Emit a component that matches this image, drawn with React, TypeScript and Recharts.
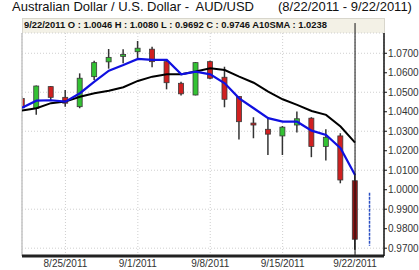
import React from "react";
import {
  Bar,
  CartesianGrid,
  ComposedChart,
  Line,
  ReferenceLine,
  XAxis,
  YAxis,
} from "recharts";

const dates = [
  "8/22/2011", "8/23/2011", "8/24/2011", "8/25/2011", "8/26/2011",
  "8/29/2011", "8/30/2011", "8/31/2011", "9/1/2011", "9/2/2011",
  "9/5/2011", "9/6/2011", "9/7/2011", "9/8/2011", "9/9/2011",
  "9/12/2011", "9/13/2011", "9/14/2011", "9/15/2011", "9/16/2011",
  "9/19/2011", "9/20/2011", "9/21/2011", "9/22/2011",
];
const opens = [
  1.0468, 1.0418, 1.0529, 1.0474, 1.0426, 1.058, 1.0656, 1.0684, 1.0708, 1.0721,
  1.0657, 1.0546, 1.0486, 1.0657, 1.0577, 1.0478, 1.0342, 1.031, 1.0276, 1.0332,
  1.0367, 1.0222, 1.0276, 1.0046,
];
const highs = [
  1.0478, 1.0535, 1.0532, 1.0512, 1.0597, 1.0662, 1.0722, 1.0721, 1.0763, 1.0734,
  1.066, 1.0554, 1.0655, 1.0662, 1.0631, 1.048, 1.0372, 1.0367, 1.0327, 1.0401,
  1.0372, 1.031, 1.029, 1.008,
];
const lows = [
  1.0412, 1.0384, 1.0457, 1.0426, 1.0418, 1.0563, 1.0621, 1.0649, 1.0676, 1.0628,
  1.0515, 1.0483, 1.0484, 1.0567, 1.0423, 1.0258, 1.0264, 1.0178, 1.0178, 1.0293,
  1.0167, 1.015, 1.0033, 0.9692,
];
const closes = [
  1.042, 1.0532, 1.0474, 1.0444, 1.0572, 1.0652, 1.0679, 1.0694, 1.0726, 1.0657,
  1.0549, 1.0492, 1.0652, 1.0572, 1.0464, 1.0349, 1.0332, 1.0285, 1.0321, 1.0364,
  1.0222, 1.0269, 1.005, 0.9746,
];
const sma10 = [
  1.0406, 1.0418, 1.0444, 1.0452, 1.0477, 1.0495, 1.0508, 1.0526, 1.0558, 1.058,
  1.0592, 1.0592, 1.0606, 1.0623, 1.0614, 1.058, 1.0549, 1.0503, 1.0464, 1.0435,
  1.0404, 1.0384, 1.0324, 1.0242,
];
const fastMa = [
  1.0421, 1.0457, 1.0459, 1.0452, 1.0495, 1.0554, 1.0611, 1.064, 1.0671, 1.0666,
  1.0666, 1.0592, 1.0606, 1.0592, 1.0546, 1.0469, 1.0418, 1.0367, 1.0349, 1.0349,
  1.0303, 1.0281, 1.0213, 1.0076,
];
// projected range for the next session (9/23)
const projection = [
  { i: 24, v: 0.9984 },
  { i: 24, v: 0.9712 },
];
const xTicks = [3, 8, 13, 18, 23];
const yTicks = [0.97, 0.98, 0.99, 1.0, 1.01, 1.02, 1.03, 1.04, 1.05, 1.06, 1.07];

const data = dates.map((date, i) => ({
  i,
  date,
  open: opens[i],
  high: highs[i],
  low: lows[i],
  close: closes[i],
  sma10: sma10[i],
  fast: fastMa[i],
}));

const FONT = "'Liberation Sans', Arial, sans-serif";

const Candle = (props: any) => {
  const { x, y, width, height, payload } = props;
  if (payload == null || height == null) return null;
  const { open, close, high, low, i } = payload;
  const k = height / (high - low);
  const yO = y + (high - open) * k;
  const yC = y + (high - close) * k;
  const cx = x + width / 2;
  const up = close >= open;
  const fill = up ? "#33c233" : i === dates.length - 1 ? "#8e1414" : "#d02020";
  const top = Math.min(yO, yC);
  const h = Math.max(Math.abs(yC - yO), 1.5);
  // first candle sits on the left edge, only its right half shows
  const clipLeft = i === 0 ? cx : -Infinity;
  const bx = Math.max(cx - 2.5, clipLeft);
  return (
    <g>
      <line x1={cx} x2={cx} y1={y} y2={y + height} stroke="#333" strokeWidth={1.5} />
      <rect x={bx} y={top} width={cx + 2.5 - bx} height={h} fill={fill} stroke="#3a3a3a" strokeWidth={0.8} />
    </g>
  );
};

export default function App() {
  return (
    <div style={{ position: "absolute", left: 0, top: 0, width: 419, height: 270, background: "#fff", fontFamily: FONT }}>
      <div style={{ position: "absolute", left: 12, top: -1, fontSize: 13, color: "#111", whiteSpace: "pre" }}>
        Australian Dollar / U.S. Dollar -  AUD/USD
      </div>
      <div style={{ position: "absolute", left: 278, top: -1, fontSize: 13, color: "#111", whiteSpace: "pre" }}>
        (8/22/2011 - 9/22/2011)
      </div>
      <div
        style={{
          position: "absolute",
          left: 22,
          top: 18,
          width: 361,
          height: 14,
          background: "#f3f1e6",
          border: "1px solid #d8d6cc",
          borderBottom: "none",
        }}
      />
      <div style={{ position: "absolute", left: 24, top: 19, fontSize: 9.4, fontWeight: "bold", color: "#111", whiteSpace: "pre" }}>
        9/22/2011 O : 1.0046 H : 1.0080 L : 0.9692 C : 0.9746 A10SMA : 1.0238
      </div>
      <ComposedChart
        width={419}
        height={270}
        data={data}
        margin={{ top: 33, right: 0, bottom: 0, left: 22 }}
        style={{ position: "absolute", left: 0, top: 0 }}
      >
        <CartesianGrid stroke="#cfcfcf" strokeDasharray="1 2" />
        <XAxis
          type="number"
          dataKey="i"
          domain={[0, 25]}
          allowDataOverflow
          ticks={xTicks}
          tickFormatter={(v: number) => dates[v] ?? ""}
          height={14}
          tickLine={false}
          tickSize={0}
          tickMargin={4}
          axisLine={{ stroke: "#222", strokeWidth: 3 }}
          tick={{ fill: "#333", fontSize: 10, fontFamily: FONT }}
        />
        <YAxis
          orientation="right"
          type="number"
          domain={[0.966, 1.0804]}
          allowDataOverflow
          ticks={yTicks}
          tickFormatter={(v: number) => v.toFixed(4)}
          width={35}
          tickSize={3}
          tickMargin={1}
          axisLine={{ stroke: "#111", strokeWidth: 1.5 }}
          tickLine={{ stroke: "#111" }}
          tick={{ fill: "#333", fontSize: 10, fontFamily: FONT }}
        />
        <ReferenceLine x={0} stroke="#c4c4c4" strokeWidth={1.5} />
        <Bar
          dataKey={(d: any) => [d.low, d.high]}
          barSize={6}
          shape={Candle}
          isAnimationActive={false}
        />
        <Line
          dataKey="sma10"
          type="linear"
          stroke="#000"
          strokeWidth={2}
          dot={false}
          isAnimationActive={false}
        />
        <Line
          dataKey="fast"
          type="linear"
          stroke="#1010e0"
          strokeWidth={2.2}
          dot={false}
          isAnimationActive={false}
        />
        <Line
          data={projection}
          dataKey="v"
          type="linear"
          stroke="#2a4fc4"
          strokeWidth={1.5}
          strokeDasharray="3 1"
          dot={false}
          isAnimationActive={false}
        />
        <ReferenceLine
          segment={[
            { x: 23, y: 1.0855 },
            { x: 23, y: 0.966 },
          ]}
          ifOverflow="visible"
          stroke="#111"
          strokeWidth={1}
        />
      </ComposedChart>
    </div>
  );
}
